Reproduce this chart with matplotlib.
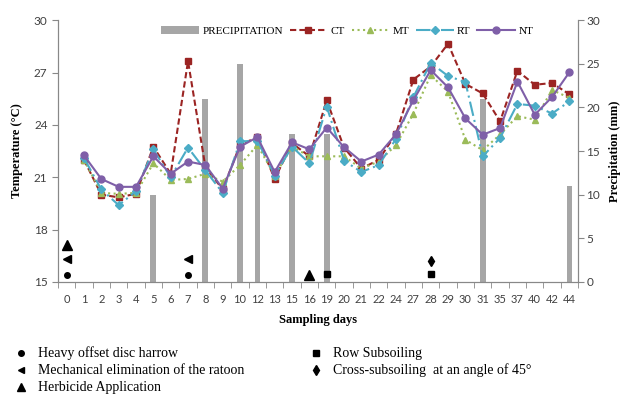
import numpy as np
import matplotlib
matplotlib.use("Agg")
import matplotlib.pyplot as plt
from matplotlib.lines import Line2D

# Sampling days (categorical x axis)
days = ['0', '1', '2', '3', '4', '5', '6', '7', '8', '9', '10', '12', '13', '15', '16',
        '19', '20', '21', '22', '24', '27', '28', '29', '30', '31', '35', '37', '40', '42', '44']

nan = np.nan
# Soil temperature (°C) per tillage system
ct = [nan, 22.0, 20.0, 19.85, 20.05, 22.75, 21.2, 27.65, 21.6, 20.3, 22.85, 23.3, 20.9, 22.95, 22.2,
      25.4, 22.7, 21.5, 22.0, 23.5, 26.6, 27.35, 28.65, 26.35, 25.8, 24.2, 27.1, 26.3, 26.4, 25.75]
mt = [nan, 22.0, 20.1, 20.05, 20.1, 21.8, 20.85, 20.9, 21.2, 20.75, 21.7, 22.85, 21.1, 22.75, 22.2,
      22.2, 22.2, 21.5, 21.9, 22.85, 24.65, 26.85, 25.9, 23.15, 22.55, 23.45, 24.5, 24.3, 26.0, 25.55]
rt = [nan, 22.1, 20.3, 19.4, 20.2, 22.6, 21.0, 22.7, 21.4, 20.1, 23.05, 23.1, 21.1, 22.75, 21.8,
      25.05, 21.95, 21.3, 21.7, 23.2, 25.6, 27.55, 26.8, 26.45, 22.2, 23.25, 25.2, 25.1, 24.65, 25.35]
nt = [nan, 22.25, 20.9, 20.45, 20.45, 22.2, 21.2, 21.9, 21.7, 20.35, 22.75, 23.3, 21.3, 23.0, 22.6,
      23.85, 22.72, 21.9, 22.3, 23.47, 25.42, 27.14, 26.15, 24.37, 23.44, 23.82, 26.48, 24.58, 25.6, 27.02]

# Precipitation (mm)
precip = [0, 0, 0, 0, 0, 10, 0, 0, 21, 0, 25, 17, 0, 17, 0,
          17, 0, 0, 0, 0, 0, 0, 0, 0, 21, 0, 0, 0, 0, 11]

# Management events (day, marker height in °C)
harrow_days, harrow_y = ['0', '7'], [15.4, 15.4]
ratoon_days, ratoon_y = ['0', '7'], [16.3, 16.3]
herbicide_days, herbicide_y = ['0', '16'], [17.1, 15.4]
row_days, row_y = ['19', '28'], [15.45, 15.45]
cross_days, cross_y = ['28'], [16.2]

x = np.arange(len(days))
pos = {d: i for i, d in enumerate(days)}

serif = 'Liberation Serif'
sans = 'Lato'

fig = plt.figure(figsize=(6.27, 3.96), dpi=100)
ax = fig.add_axes([0.0925, 0.288, 0.8295, 0.661])
ax2 = ax.twinx()

bars = ax2.bar(x, precip, width=0.33, color='#A6A6A6', label='PRECIPITATION')
ax2.set_ylim(0, 30)
ax2.set_yticks(range(0, 31, 5))

ax.set_zorder(ax2.get_zorder() + 1)
ax.patch.set_visible(False)

l_ct, = ax.plot(x, ct, color='#9B2423', ls=(0, (3, 1.5)), lw=1.5, marker='s', ms=5, label='CT')
l_mt, = ax.plot(x, mt, color='#9BBB59', ls=':', lw=1.5, marker='^', ms=5, label='MT')
l_rt, = ax.plot(x, rt, color='#4BACC6', ls=(0, (7, 2, 1, 2)), lw=1.5, marker='D', ms=4, label='RT')
l_nt, = ax.plot(x, nt, color='#7F5FA8', ls='-', lw=1.5, marker='o', ms=5, label='NT')

# event markers
ax.plot([pos[d] for d in harrow_days], harrow_y, 'o', color='black', ms=4, clip_on=False)
ax.plot([pos[d] for d in ratoon_days], ratoon_y, '<', color='black', ms=6, clip_on=False)
ax.plot([pos[d] for d in herbicide_days], herbicide_y, '^', color='black', ms=7, clip_on=False)
ax.plot([pos[d] for d in row_days], row_y, 's', color='black', ms=5, clip_on=False)
ax.plot([pos[d] for d in cross_days], cross_y, 'd', color='black', ms=5, clip_on=False)

ax.set_ylim(15, 30)
ax.set_yticks(range(15, 31, 3))
ax.set_xlim(-0.5, len(days) - 0.5)
ax.set_xticks(x)
ax.set_xticklabels(days)
ax.set_xticks(np.arange(-0.5, len(days), 1), minor=True)
ax.tick_params(axis='x', which='major', length=0, pad=9)
ax.tick_params(axis='x', which='minor', length=4, color='#888888')

for a in (ax, ax2):
    a.spines['top'].set_visible(False)
    for s in ('left', 'right', 'bottom'):
        a.spines[s].set_color('#888888')
    a.tick_params(axis='y', length=4, color='#888888', labelsize=8.5, labelcolor='#404040')
    for lab in a.get_yticklabels():
        lab.set_fontfamily(sans)
for lab in ax.get_xticklabels():
    lab.set_fontfamily(sans)
    lab.set_fontsize(8)
    lab.set_color('#404040')
ax2.tick_params(axis='y', pad=2)

ax.set_ylabel('Temperature (°C)', fontfamily=serif, fontweight='bold', fontsize=9, labelpad=8)
ax2.set_ylabel('Precipitation (mm)', fontfamily=serif, fontweight='bold', fontsize=9, labelpad=6)
ax.set_xlabel('Sampling days', fontfamily=serif, fontweight='bold', fontsize=9, labelpad=6)

ax.legend([bars, l_ct, l_mt, l_rt, l_nt], ['PRECIPITATION', 'CT', 'MT', 'RT', 'NT'],
          loc='center', bbox_to_anchor=(0.556, 0.96), ncol=5, frameon=False,
          prop={'family': serif, 'size': 8}, handlelength=3.4, columnspacing=0.6,
          handletextpad=0.3)

# event legend below the chart
events_left = [('o', 4, 'Heavy offset disc harrow'),
               ('<', 5, 'Mechanical elimination of the ratoon'),
               ('^', 6, 'Herbicide Application')]
events_right = [('s', 4, 'Row Subsoiling'),
                ('d', 5, 'Cross-subsoiling  at an angle of 45°')]
W, H = 627, 396
rows_y = [353, 370, 387]
for (m, ms, txt), yp in zip(events_left, rows_y):
    fig.add_artist(Line2D([21 / W], [1 - yp / H], marker=m, ms=ms, color='black',
                          ls='none', transform=fig.transFigure))
    fig.text(38 / W, 1 - yp / H, txt, fontfamily=serif, fontsize=10, va='center')
for (m, ms, txt), yp in zip(events_right, rows_y):
    fig.add_artist(Line2D([316 / W], [1 - yp / H], marker=m, ms=ms, color='black',
                          ls='none', transform=fig.transFigure))
    fig.text(333 / W, 1 - yp / H, txt, fontfamily=serif, fontsize=10, va='center')

fig.savefig('out.png', dpi=100)
